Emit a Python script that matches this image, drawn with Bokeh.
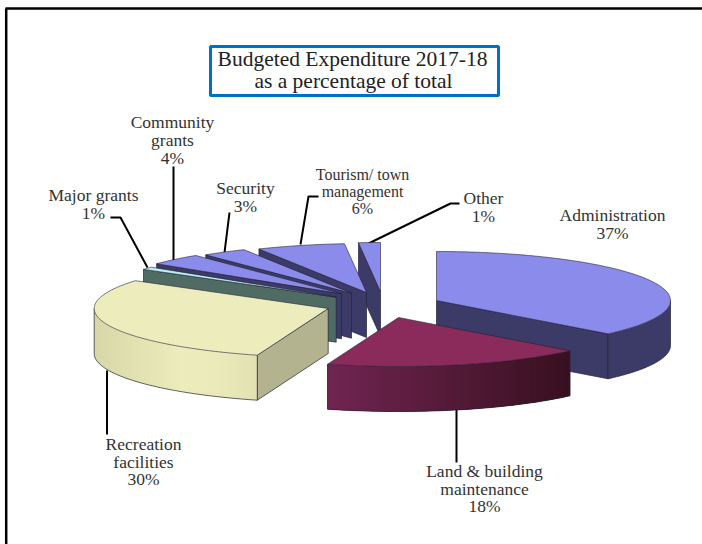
import math
from bokeh.plotting import figure
from bokeh.models import Range1d
from bokeh.core.properties import value
from bokeh.embed import file_html
from bokeh.resources import INLINE

# ---- data ----
categories = ["Administration", "Land & building maintenance", "Recreation facilities",
              "Major grants", "Community grants", "Security", "Tourism/ town management", "Other"]
shares = [36.9, 18.0, 29.7, 0.9, 3.8, 3.1, 6.1, 1.5]
percent_labels = ["37%", "18%", "30%", "1%", "4%", "3%", "6%", "1%"]

# ---- layout & style ----
W, H = 702, 544
RX, RY, DEPTH = 234, 49, 45
centres = [(436, 300), (398, 317), (327.7, 308), (335.7, 296.7),
           (341, 293.3), (351, 292.7), (366, 292), (380, 291)]
top_col = ["#8B8BEB", "#8A2B5B", "#ECECBC", "#B9F0EC", "#8B8BEB", "#8B8BEB", "#8B8BEB", "#8B8BEB"]
wall_col = ["#3C3A66", "#5A1C3F", "#E2E1B2", "#4F6B64", "#3C3A66", "#3C3A66", "#3C3A66", "#3C3A66"]
face_col = ["#3C3A66", "#5A1C3F", "#B3B48F", "#4F6B64", "#3C3A66", "#3C3A66", "#3C3A66", "#3C3A66"]
gradients = {1: [(0.0, "#702551"), (1.0, "#38101F")],
             2: [(0.0, "#D8D7A8"), (0.55, "#EDEDBC"), (0.85, "#E8E7B8"), (1.0, "#E2E1B2")]}
draw_order = [7, 6, 5, 4, 3, 2, 0, 1]
EDGE = "#23233a"
SERIF = "Liberation Serif"

p = figure(width=W, height=H, output_backend="svg", toolbar_location=None,
           x_range=Range1d(0, W), y_range=Range1d(H, 0),
           min_border=0, outline_line_color=None, background_fill_color="white")
p.axis.visible = False
p.grid.visible = False

# page frame
p.line([5.7, 5.7], [H, 8], line_color="black", line_width=2.5)
p.line([5, W], [8, 8], line_color="black", line_width=2.5)

# leaders
leader_lines = [
    ([110, 120, 147], [217, 217, 267]),
    ([173, 173], [166, 261]),
    ([229, 224], [212, 252]),
    ([318, 308, 300], [196, 196, 244]),
    ([459, 450, 368], [203, 203, 243]),
    ([106.5, 106.5], [370, 434]),
    ([456, 456], [405, 462]),
]
for xs, ys in leader_lines:
    p.line(xs, ys, line_color="black", line_width=2)


def hex_mix(a, b, t):
    ca = [int(a[i:i + 2], 16) for i in (1, 3, 5)]
    cb = [int(b[i:i + 2], 16) for i in (1, 3, 5)]
    return "#%02x%02x%02x" % tuple(round(u + (v - u) * t) for u, v in zip(ca, cb))


def grad_col(stops, t):
    for (t0, c0), (t1, c1) in zip(stops, stops[1:]):
        if t <= t1:
            return hex_mix(c0, c1, (t - t0) / (t1 - t0))
    return stops[-1][1]


def pt(c, deg):
    r = math.radians(deg)
    return c[0] + RX * math.sin(r), c[1] - RY * math.cos(r)


# sector angles from the shares, clockwise from twelve o'clock
total = sum(shares)
bounds, acc = [], 0.0
for s in shares:
    bounds.append((acc * 360 / total, (acc + s) * 360 / total))
    acc += s

for i in draw_order:
    a, b = bounds[i]
    c = centres[i]
    n = max(3, int((b - a) / 1.0))
    arc = [pt(c, a + (b - a) * k / n) for k in range(n + 1)]

    # radial faces turned towards the viewer
    for deg, visible in ((a, math.sin(math.radians(a)) < -1e-6), (b, math.sin(math.radians(b)) > 1e-6)):
        if visible:
            ox, oy = pt(c, deg)
            p.patch([c[0], ox, ox, c[0]], [c[1], oy, oy + DEPTH, c[1] + DEPTH],
                    fill_color=face_col[i], line_color=EDGE, line_width=0.7)

    # outer wall (the part of the rim on the near side)
    w0, w1 = max(a, 90.0), min(b, 270.0)
    if w1 > w0:
        m = max(2, int(w1 - w0))
        pts = [pt(c, w0 + (w1 - w0) * k / m) for k in range(m + 1)]
        if i in gradients:
            xmin = min(q[0] for q in pts)
            xmax = max(q[0] for q in pts)
            for k in range(m):
                x0, y0 = pts[k]
                x1, y1 = pts[k + 1]
                t = ((x0 + x1) / 2 - xmin) / (xmax - xmin)
                col = grad_col(gradients[i], t)
                # each strip runs on beneath the next one, so that no seam shows
                x2, y2 = pts[min(k + 3, m)]
                p.patch([x0, x1, x2, x2, x1, x0], [y0, y1, y2, y2 + DEPTH, y1 + DEPTH, y0 + DEPTH],
                        fill_color=col, line_color=None)
        else:
            xs = [q[0] for q in pts]
            ys = [q[1] for q in pts]
            p.patch(xs + xs[::-1], ys + [y + DEPTH for y in ys[::-1]],
                    fill_color=wall_col[i], line_color=None)
        xs = [q[0] for q in pts]
        ys = [q[1] + DEPTH for q in pts]
        p.line(xs, ys, line_color=EDGE, line_width=0.7)
        for q in (pts[0], pts[-1]):
            p.line([q[0], q[0]], [q[1], q[1] + DEPTH], line_color=EDGE, line_width=0.7)

    # top face
    xs = [c[0]] + [q[0] for q in arc]
    ys = [c[1]] + [q[1] for q in arc]
    p.patch(xs, ys, fill_color=top_col[i], line_color=EDGE, line_width=0.6)

# title box
p.quad(left=[210], right=[498], top=[46], bottom=[95], fill_color="white",
       line_color="#0070C0", line_width=3)
p.text([352], [58], text=["Budgeted Expenditure 2017-18"], text_font=value(SERIF), text_font_size="21.5px",
       text_align="center", text_baseline="middle", text_color="#222222")
p.text([353], [80.5], text=["as a percentage of total"], text_font=value(SERIF), text_font_size="21.5px",
       text_align="center", text_baseline="middle", text_color="#222222")

# slice labels
label_lines = [
    (612, [214.5, 232], ["Administration", percent_labels[0]], "17.5px"),
    (484, [470.5, 488, 505.5], ["Land & building", "maintenance", percent_labels[1]], "17.5px"),
    (143, [443.5, 461, 478], ["Recreation", "facilities", percent_labels[2]], "17.5px"),
    (93, [194.5, 212], ["Major grants", percent_labels[3]], "17.5px"),
    (172, [121.5, 139.5, 157], ["Community", "grants", percent_labels[4]], "17.5px"),
    (245, [187.5, 205.5], ["Security", percent_labels[5]], "17.5px"),
    (362, [174, 190.5, 208], ["Tourism/ town", "management", percent_labels[6]], "16px"),
    (483, [197.5, 215.5], ["Other", percent_labels[7]], "17.5px"),
]
for x, ys, lines, size in label_lines:
    p.text([x] * len(ys), ys, text=lines, text_font=value(SERIF), text_font_size=size,
           text_align="center", text_baseline="middle", text_color="#333333")

open("out.html", "w").write(file_html(p, INLINE))
